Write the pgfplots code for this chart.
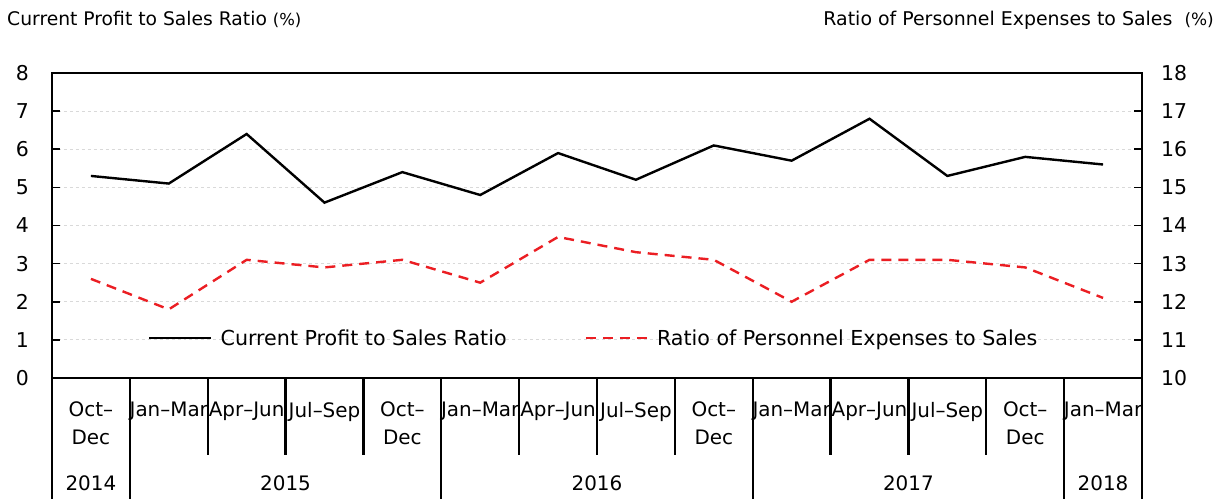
\documentclass[border=0pt]{standalone}
\usepackage{fontspec}
\setmainfont{DejaVu Sans}
\usepackage{pgfplots}
\pgfplotsset{compat=1.18}
\definecolor{redline}{RGB}{235,30,35}
\begin{document}
\begin{tikzpicture}
\begin{axis}[
  at={(52bp,121bp)}, anchor=south west,
  scale only axis, width=1090bp, height=305bp,
  xmin=-0.5, xmax=13.5, ymin=0, ymax=8,
  clip=false,
  xtick={0,...,13},
  xticklabels={{Oct–\\Dec},Jan–Mar,Apr–Jun,Jul–Sep,{Oct–\\Dec},Jan–Mar,Apr–Jun,Jul–Sep,{Oct–\\Dec},Jan–Mar,Apr–Jun,Jul–Sep,{Oct–\\Dec},Jan–Mar},
  xtick style={draw=none},
  xticklabel style={font=\fontsize{20}{28}\selectfont, align=center, anchor=north, inner sep=0pt, yshift=-24bp},
  ytick={0,...,8}, ytick pos=left,
  tick align=inside, major tick length=8bp,
  tick style={line width=1.6bp, black},
  yticklabel style={font=\fontsize{20.5}{24}\selectfont, inner sep=0pt, xshift=-23bp},
  /pgf/number format/assume math mode=true,
  ymajorgrids, major grid style={gray!30, dashed, line width=0.8bp},
  axis line style={line width=2.6bp},
  legend columns=2,
  legend style={at={(0.0881,0.131)}, anchor=west, draw=none, fill=none, inner sep=0pt,
    font=\fontsize{20.7}{24}\selectfont,
    nodes={inner sep=0pt},
    /tikz/every odd column/.append style={column sep=8bp},
    /tikz/every even column/.append style={column sep=78bp}},
  legend image code/.code={\draw[#1] (0bp,0bp) -- (62bp,0bp);},
]
\addplot[black, line width=2.4bp] coordinates {
(0,5.3) (1,5.1) (2,6.4) (3,4.6) (4,5.4) (5,4.8) (6,5.9) (7,5.2) (8,6.1) (9,5.7) (10,6.8) (11,5.3) (12,5.8) (13,5.6)};
\addlegendentry{Current Profit to Sales Ratio}
\addlegendimage{redline, line width=2.4bp, dash pattern=on 10bp off 7bp}
\addlegendentry{Ratio of Personnel Expenses to Sales}
\pgfplotsinvokeforeach{1.5,2.5,3.5,5.5,6.5,7.5,9.5,10.5,11.5}{
  \draw[line width=2.4bp] (axis cs:#1,0) -- (axis cs:#1,-2.02);
}
\pgfplotsinvokeforeach{-0.5,0.5,4.5,8.5,12.5,13.5}{
  \draw[line width=2.4bp] (axis cs:#1,0) -- (axis cs:#1,-3.4);
}
\node[font=\fontsize{20}{24}\selectfont] at (axis cs:0,-2.754) {2014};
\node[font=\fontsize{20}{24}\selectfont] at (axis cs:2.5,-2.754) {2015};
\node[font=\fontsize{20}{24}\selectfont] at (axis cs:6.5,-2.754) {2016};
\node[font=\fontsize{20}{24}\selectfont] at (axis cs:10.5,-2.754) {2017};
\node[font=\fontsize{20}{24}\selectfont] at (axis cs:13,-2.754) {2018};
\end{axis}
\begin{axis}[
  at={(52bp,121bp)}, anchor=south west,
  scale only axis, width=1090bp, height=305bp,
  xmin=-0.5, xmax=13.5, ymin=10, ymax=18,
  axis y line*=right, axis x line=none,
  ytick={10,...,18},
  tick align=inside, major tick length=8bp,
  tick style={line width=1.6bp, black},
  yticklabel style={font=\fontsize{20.5}{24}\selectfont, inner sep=0pt, xshift=19bp},
  /pgf/number format/assume math mode=true,
  axis line style={line width=2.6bp},
]
\addplot[redline, line width=2.4bp, dash pattern=on 10bp off 7bp] coordinates {
(0,12.6) (1,11.8) (2,13.1) (3,12.9) (4,13.1) (5,12.5) (6,13.7) (7,13.3) (8,13.1) (9,12.0) (10,13.1) (11,13.1) (12,12.9) (13,12.1)};
\end{axis}
\node[anchor=base west, inner sep=0pt, font=\fontsize{18.8}{22}\selectfont] at (7bp,473bp) {Current Profit to Sales Ratio {\fontsize{16.5}{18}\selectfont(\%)}};
\node[anchor=base east, inner sep=0pt, font=\fontsize{19}{22}\selectfont] at (1214bp,473bp) {Ratio of Personnel Expenses to Sales\ \ {\fontsize{17}{18}\selectfont(\%)}};
\pgfresetboundingbox
\path[use as bounding box] (0bp,0bp) rectangle (1226bp,499bp);
\end{tikzpicture}
\end{document}
